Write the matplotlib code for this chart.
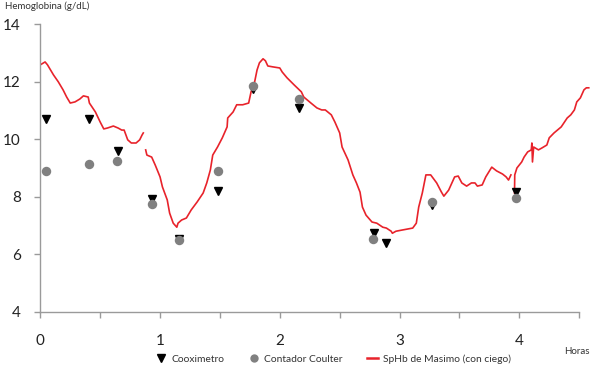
import numpy as np
import matplotlib
matplotlib.use("Agg")
import matplotlib.pyplot as plt

plt.rcParams['font.family'] = ['Lato', 'DejaVu Sans']

# SpHb de Masimo (con ciego), three pieces of trace (hours, g/dL)
sphb_t1 = [0.00, 0.04, 0.06, 0.11, 0.15, 0.19, 0.22, 0.25, 0.29, 0.33, 0.36, 0.40,
           0.41, 0.46, 0.50, 0.53, 0.56, 0.61, 0.65, 0.68, 0.70, 0.73, 0.76, 0.80,
           0.83, 0.85, 0.86]
sphb_v1 = [12.59, 12.69, 12.59, 12.24, 12.00, 11.72, 11.47, 11.26, 11.30, 11.40, 11.51, 11.47,
           11.26, 10.95, 10.60, 10.36, 10.39, 10.46, 10.39, 10.32, 10.32, 9.98, 9.87, 9.87,
           9.98, 10.15, 10.22]

sphb_t2 = [0.88, 0.89, 0.93, 0.96, 1.00, 1.02, 1.06, 1.08, 1.11, 1.14, 1.15, 1.18,
           1.22, 1.26, 1.31, 1.36, 1.39, 1.42, 1.44, 1.48, 1.52, 1.56, 1.565, 1.61,
           1.64, 1.69, 1.74, 1.76, 1.79, 1.81, 1.83, 1.86, 1.88, 1.90, 1.94, 2.00,
           2.02, 2.06, 2.12, 2.18, 2.20, 2.26, 2.31, 2.35, 2.38, 2.43, 2.46, 2.50,
           2.52, 2.57, 2.61, 2.64, 2.67, 2.69, 2.72, 2.77, 2.81, 2.86, 2.89, 2.93,
           2.94, 2.97, 3.02, 3.11, 3.14, 3.16, 3.19, 3.22, 3.26, 3.31, 3.35, 3.37,
           3.41, 3.46, 3.49, 3.52, 3.56, 3.60, 3.63, 3.65, 3.69, 3.72, 3.77, 3.81,
           3.86, 3.89, 3.91, 3.93]
sphb_v2 = [9.63, 9.45, 9.38, 9.10, 8.69, 8.34, 7.89, 7.43, 7.08, 6.94, 7.08, 7.19,
           7.26, 7.54, 7.82, 8.13, 8.48, 8.93, 9.45, 9.73, 10.05, 10.43, 10.74, 10.95,
           11.20, 11.20, 11.26, 11.65, 12.00, 12.41, 12.66, 12.80, 12.73, 12.55, 12.52, 12.48,
           12.34, 12.14, 11.89, 11.65, 11.47, 11.26, 11.09, 11.02, 11.02, 10.85, 10.60, 10.22,
           9.73, 9.28, 8.76, 8.48, 8.16, 7.64, 7.36, 7.12, 7.08, 6.94, 6.91, 6.80,
           6.73, 6.80, 6.84, 6.91, 7.08, 7.64, 8.13, 8.76, 8.76, 8.48, 8.16, 8.02,
           8.23, 8.69, 8.72, 8.48, 8.37, 8.48, 8.48, 8.37, 8.41, 8.69, 9.03, 8.90,
           8.79, 8.69, 8.58, 8.76]

sphb_t3 = [3.96, 3.962, 3.98, 4.02, 4.04, 4.07, 4.10, 4.105, 4.11, 4.12, 4.16, 4.19,
           4.23, 4.25, 4.29, 4.35, 4.40, 4.43, 4.46, 4.48, 4.51, 4.54, 4.56, 4.58]
sphb_v3 = [8.13, 8.76, 9.00, 9.21, 9.38, 9.56, 9.63, 9.87, 9.21, 9.73, 9.63, 9.70,
           9.80, 10.05, 10.22, 10.43, 10.74, 10.85, 11.02, 11.30, 11.44, 11.72, 11.79, 11.79]

# Cooximetro samples
coox_t = [0.05, 0.41, 0.65, 0.93, 1.16, 1.48, 1.78, 2.16, 2.79, 2.89, 3.27, 3.97]
coox_v = [10.70, 10.70, 9.60, 7.93, 6.52, 8.20, 11.75, 11.10, 6.74, 6.40, 7.70, 8.15]

# Contador Coulter samples
coul_t = [0.05, 0.41, 0.64, 0.93, 1.16, 1.48, 1.78, 2.16, 2.78, 3.27, 3.97]
coul_v = [8.91, 9.15, 9.26, 7.73, 6.49, 8.91, 11.87, 11.39, 6.53, 7.83, 7.97]

red = '#e8232b'
grey_axis = '#9a9a9a'

fig = plt.figure(figsize=(6, 3.69), dpi=100)
ax = fig.add_axes([40.3 / 600, 57.3 / 369, 4.6 * 119.75 / 600, 287.4 / 369])

for t, v in [(sphb_t1, sphb_v1), (sphb_t2, sphb_v2), (sphb_t3, sphb_v3)]:
    ax.plot(t, v, color=red, lw=1.2, zorder=2)

ax.plot(coox_t, coox_v, ls='none', marker='v', color='black', ms=6.3, zorder=3)
ax.plot(coul_t, coul_v, ls='none', marker='o', color='#808080', ms=6.8, mec='none', zorder=4)

ax.set_xlim(0, 4.6)
ax.set_ylim(4, 14)
ax.set_xticks([0, 1, 2, 3, 4])
ax.set_xticks([0.5, 1.5, 2.5, 3.5, 4.5], minor=True)
ax.set_yticks([4, 6, 8, 10, 12, 14])

for s in ['top', 'right']:
    ax.spines[s].set_visible(False)
ax.spines['bottom'].set_bounds(0, 4.5)
for s in ['left', 'bottom']:
    ax.spines[s].set_color(grey_axis)
    ax.spines[s].set_linewidth(1.0)

ax.tick_params(axis='both', which='both', color=grey_axis, length=4, width=1.0,
               labelsize=11, labelcolor='#222222')
ax.tick_params(axis='x', which='major', pad=12)
ax.tick_params(axis='y', pad=10)

fig.text(5 / 600, 1 - 6 / 369, 'Hemoglobina (g/dL)', fontsize=7, color='#333333',
         ha='left', va='center')
fig.text(590 / 600, 1 - 352 / 369, 'Horas', fontsize=7, color='#333333',
         ha='right', va='center')

# legend at the bottom
h1, = ax.plot([], [], ls='none', marker='v', color='black', ms=5.5)
h2, = ax.plot([], [], ls='none', marker='o', color='#808080', ms=6, mec='none')
h3, = ax.plot([], [], color=red, lw=1.8)
fig.legend([h1, h2, h3], ['Cooximetro', 'Contador Coulter', 'SpHb de Masimo (con ciego)'],
           loc='center', bbox_to_anchor=(333 / 600, 1 - 359 / 369), ncol=3, frameon=False,
           fontsize=7.4, handlelength=1.1, columnspacing=2.3, handletextpad=0.5,
           labelcolor='#333333')

fig.savefig('out.png', dpi=100)
